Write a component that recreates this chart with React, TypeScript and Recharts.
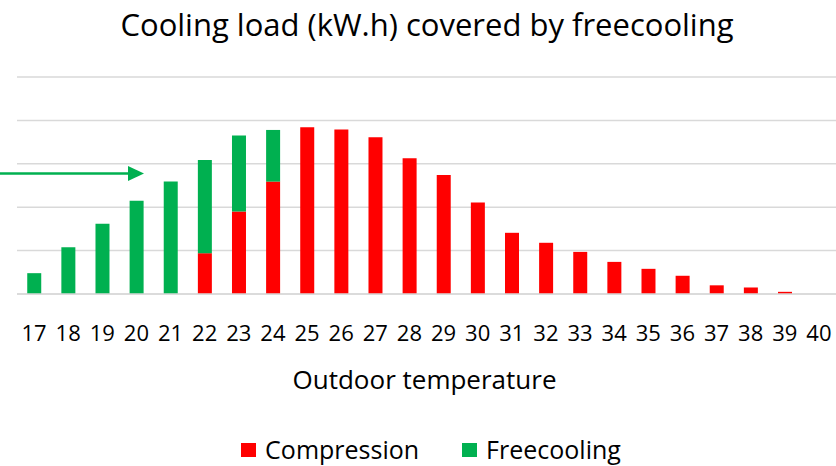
import React from "react";
import { BarChart, Bar, XAxis, YAxis, CartesianGrid } from "recharts";

const temps = [
  "17", "18", "19", "20", "21", "22", "23", "24", "25", "26", "27", "28",
  "29", "30", "31", "32", "33", "34", "35", "36", "37", "38", "39", "40",
];
const compression = [
  0, 0, 0, 0, 0, 9.4, 19.0, 25.9, 38.4, 37.9, 36.1, 31.3,
  27.4, 21.1, 14.1, 11.8, 9.7, 7.4, 5.8, 4.2, 2.0, 1.5, 0.5, 0,
];
const freecooling = [
  4.8, 10.8, 16.2, 21.5, 25.9, 21.5, 17.5, 11.9, 0, 0, 0, 0,
  0, 0, 0, 0, 0, 0, 0, 0, 0, 0, 0, 0,
];
const yTicks = [0, 10, 20, 30, 40, 50];

const RED = "#FF0000";
const GREEN = "#00B050";
const FONT = "'Open Sans', sans-serif";

const data = temps.map((t, i) => ({
  temp: t,
  compression: compression[i],
  freecooling: freecooling[i],
}));

export default function App() {
  return (
    <div style={{ position: "absolute", left: 0, top: 0, width: 836, height: 466, background: "#fff", fontFamily: FONT }}>
      <div style={{ position: "absolute", top: 3, width: 854, textAlign: "center", fontSize: 31, color: "#000", whiteSpace: "nowrap" }}>
        Cooling load (kW.h) covered by freecooling
      </div>
      <BarChart
        width={836}
        height={466}
        data={data}
        margin={{ top: 77, right: 0, bottom: 122, left: 17 }}
        barCategoryGap="30%"
      >
        <CartesianGrid vertical={false} stroke="#d9d9d9" strokeWidth={1.5} />
        <XAxis
          dataKey="temp"
          interval={0}
          height={50}
          tickLine={false}
          axisLine={{ stroke: "#d9d9d9", strokeWidth: 1.5 }}
          tickMargin={25}
          tick={{ fill: "#000", fontSize: 22, fontFamily: FONT }}
        />
        <YAxis hide domain={[0, 50]} ticks={yTicks} />
        <Bar dataKey="compression" name="Compression" stackId="a" fill={RED} isAnimationActive={false} />
        <Bar dataKey="freecooling" name="Freecooling" stackId="a" fill={GREEN} isAnimationActive={false} />
      </BarChart>
      <svg width={836} height={466} style={{ position: "absolute", left: 0, top: 0, pointerEvents: "none" }}>
        <line x1={0} y1={173.5} x2={130} y2={173.5} stroke={GREEN} strokeWidth={2.5} />
        <polygon points="128,166 144,173.5 128,181" fill={GREEN} />
      </svg>
      <div style={{ position: "absolute", top: 361, width: 849, textAlign: "center", fontSize: 26, color: "#000", whiteSpace: "nowrap" }}>
        Outdoor temperature
      </div>
      <div style={{ position: "absolute", top: 432, left: 0, width: 862, display: "flex", justifyContent: "center", alignItems: "center", fontSize: 25, color: "#000", whiteSpace: "nowrap" }}>
        <span style={{ width: 15, height: 14, background: RED, marginRight: 9, marginTop: 2 }} />
        <span style={{ marginRight: 43 }}>Compression</span>
        <span style={{ width: 15, height: 14, background: GREEN, marginRight: 9, marginTop: 2 }} />
        <span>Freecooling</span>
      </div>
    </div>
  );
}
